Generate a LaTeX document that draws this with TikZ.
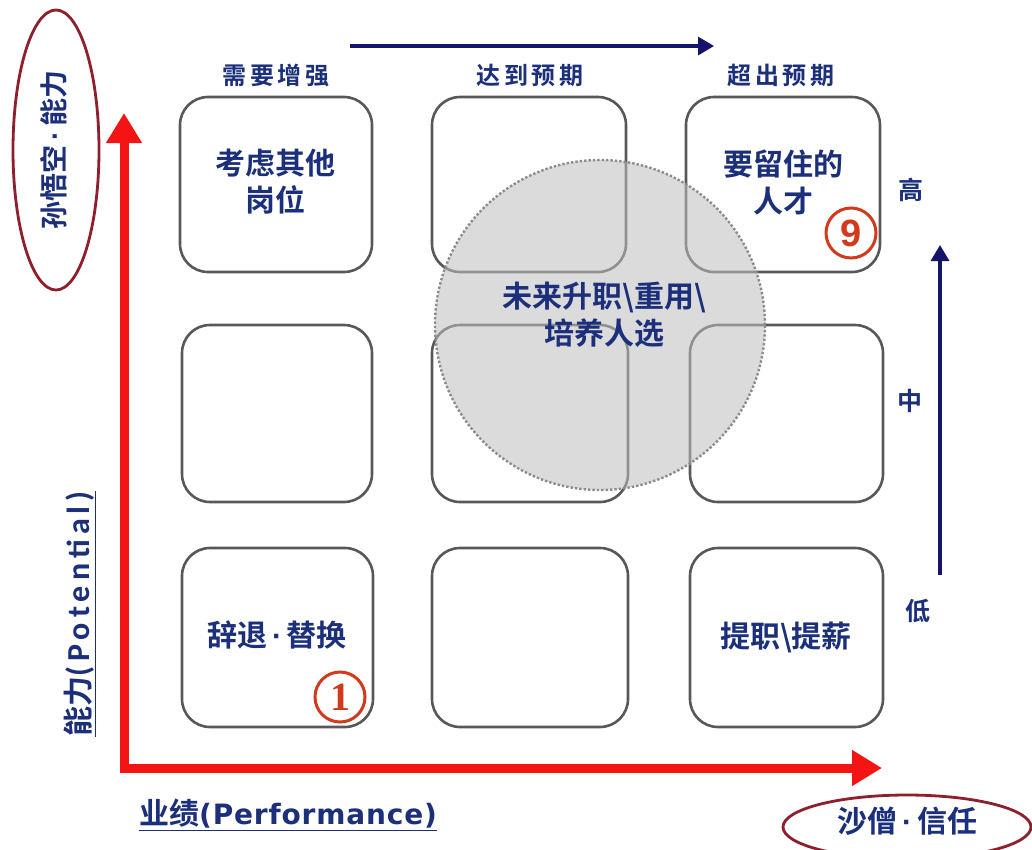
\documentclass[tikz,border=0pt]{standalone}
\usepackage{fontspec}
\setmainfont{Liberation Sans}
\newfontfamily\cjkb{Noto Sans CJK SC Bold}
\newfontfamily\cjkbsp[LetterSpace=14]{Noto Sans CJK SC Bold}
\newfontfamily\latb{Liberation Sans Bold}
\newfontfamily\calb[LetterSpace=16]{Carlito Bold}
\newfontfamily\dvb[LetterSpace=3]{DejaVu Sans Bold}
\newfontfamily\serb{Liberation Serif Bold}
\newcommand\mydot{{\latb\,·\,}}
\usetikzlibrary{arrows.meta,shapes.geometric}
\definecolor{navy}{HTML}{1B2F7A}
\definecolor{arrnavy}{HTML}{14146A}
\definecolor{redax}{HTML}{F41414}
\definecolor{ellred}{HTML}{8E1F2C}
\definecolor{boxgray}{HTML}{585858}
\definecolor{numred}{HTML}{D23A1E}
\begin{document}
\begin{tikzpicture}[x=1pt,y=-1pt,
  cell/.style={draw=boxgray,line width=2.6pt,rounded corners=28pt},
  celltext/.style={text=navy,font=\cjkb\fontsize{30}{37}\selectfont,align=center,inner sep=0pt},
  toplabel/.style={text=navy,font=\cjkbsp\fontsize{24}{26}\selectfont},
  sidelabel/.style={text=navy,font=\cjkb\fontsize{25}{26}\selectfont},
  numcirc/.style={circle,draw=numred,line width=3pt,minimum size=50pt,inner sep=0pt,text=numred},
  navyarrow/.style={draw=arrnavy,line width=3.4pt,-{Triangle[length=16pt,width=18pt]}},
  redarrow/.style={draw=redax,line width=9pt,line join=miter,{Triangle[length=30pt,width=34pt]}-{Triangle[length=30pt,width=34pt]}}
]
\useasboundingbox (0,0) rectangle (1032,849);
\fill[white] (0,0) rectangle (1032,849);

% cells
\draw[cell] (180,97) rectangle (372,272);
\draw[cell] (432,97) rectangle (626,272);
\draw[cell] (686,97) rectangle (880,272);
\draw[cell] (182,325) rectangle (372,502);
\draw[cell] (432,325) rectangle (628,502);
\draw[cell] (690,325) rectangle (883,502);
\draw[cell] (182,548) rectangle (373,727);
\draw[cell] (432,548) rectangle (628,727);
\draw[cell] (690,548) rectangle (883,727);

% big translucent circle over the boxes
\node[circle,fill=black!25,fill opacity=0.55,draw=black!45,line width=2.4pt,dotted,minimum size=330pt,inner sep=0pt] (big) at (600,325) {};

% cell texts
\node[celltext] (t1) at (275,182) {考虑其他\\岗位};
\node[celltext] (t9) at (783,182) {要留住的\\人才};
\node[celltext] (tc) at (604,315) {未来升职\textbackslash 重用\textbackslash\\培养人选};
\node[celltext] (tl) at (277,635) {辞退\mydot 替换};
\node[celltext] (tr) at (786,637) {提职\textbackslash 提薪};

\node[numcirc,font=\serb\fontsize{40}{40}\selectfont] (n1) at (340,697) {1};
\node[numcirc,font=\latb\fontsize{38}{38}\selectfont] (n9) at (851,233) {9};

% top labels
\node[toplabel] (h1) at (276,75) {需要增强};
\node[toplabel] (h2) at (530,75) {达到预期};
\node[toplabel] (h3) at (781,75) {超出预期};
\coordinate (ta) at (350,46);
\coordinate (tb) at (714,46);
\draw[navyarrow] (ta) -- (tb);

% right labels
\node[sidelabel] (r1) at (911,190) {高};
\node[sidelabel] (r2) at (910,401) {中};
\node[sidelabel] (r3) at (918,611) {低};
\coordinate (ra) at (940,575);
\coordinate (rb) at (940,245);
\draw[navyarrow] (ra) -- (rb);

% red axes
\coordinate (ytop) at (124,113);
\coordinate (o) at (124,768);
\coordinate (xend) at (882,768);
\draw[redarrow] (ytop) -- (o) -- (xend);

% axis labels
\node[text=navy,rotate=90,inner sep=1pt] (yl) at (80,614)
  {\underline{{\cjkb\fontsize{30}{30}\selectfont 能力}{\calb\fontsize{32}{32}\selectfont (Potential)}}};
\node[text=navy,inner sep=1pt,anchor=west] (xl) at (138,815)
  {\underline{{\cjkb\fontsize{30}{30}\selectfont 业绩}{\dvb\fontsize{28}{28}\selectfont (Performance)}}};

% ellipses
\node[draw=ellred,line width=2.8pt,ellipse,minimum width=86pt,minimum height=280pt,inner sep=0pt] (e1) at (56,150) {};
\node[text=navy,rotate=90,font=\cjkb\fontsize{28}{30}\selectfont] (e1t) at (54,150) {孙悟空\mydot 能力};
\node[draw=ellred,line width=2.8pt,ellipse,minimum width=248pt,minimum height=64pt,inner sep=0pt] (e2) at (907,827) {};
\node[text=navy,font=\cjkb\fontsize{30}{32}\selectfont] (e2t) at (907,821) {沙僧\mydot 信任};
\end{tikzpicture}
\end{document}
